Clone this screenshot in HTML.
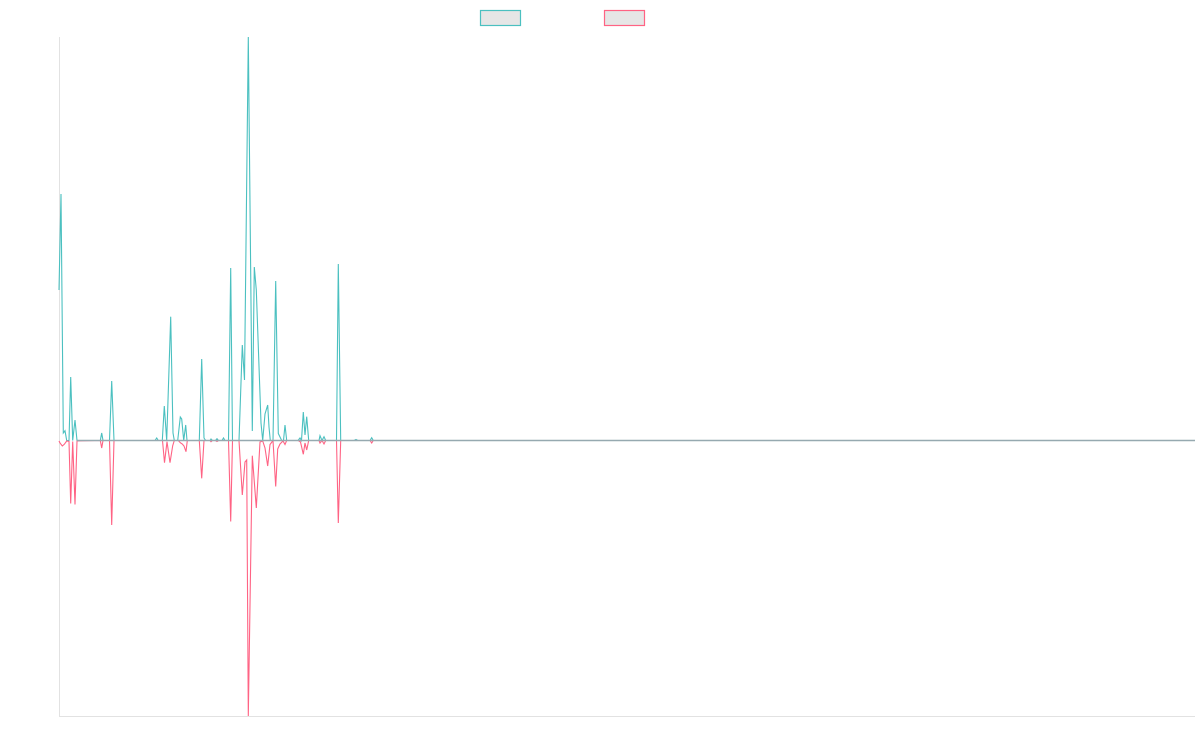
<!DOCTYPE html>
<html>
<head>
<meta charset="utf-8">
<style>
  html, body { margin: 0; padding: 0; background: #ffffff; }
  body { width: 1200px; height: 750px; overflow: hidden; font-family: "Liberation Sans", sans-serif; }
  svg { display: block; }
</style>
</head>
<body>
<svg width="1200" height="750" viewBox="0 0 1200 750" xmlns="http://www.w3.org/2000/svg">
  <rect x="0" y="0" width="1200" height="750" fill="#ffffff"/>

  <!-- legend -->
  <rect x="480.5" y="10.5" width="40" height="15" fill="#e6e6e6" stroke="rgb(75,192,192)" stroke-width="1.2"/>
  <rect x="604.5" y="10.5" width="40" height="15" fill="#e6e6e6" stroke="rgb(255,99,132)" stroke-width="1.2"/>

  <!-- axes -->
  <line x1="59.5" y1="37" x2="59.5" y2="716.5" stroke="#e2e2e2" stroke-width="1"/>
  <line x1="59" y1="716.5" x2="1195" y2="716.5" stroke="#e2e2e2" stroke-width="1"/>

  <!-- teal series -->
  <polyline fill="none" stroke="rgb(75,192,192)" stroke-width="1.1" stroke-linejoin="miter"
    points="59,290 61,194 63.3,433 65,430.7 66.7,440.5 69,440.5 70.7,377 72.7,440.5 75,420 77,440.5 100.3,440.5 101.7,433 103,440.5 109.5,440.5 111.7,381 114,440.5 155,440.5 156.7,438 158.3,440.5 162.3,440.5 164.3,406 166.7,440.5 170.7,316.7 173,433 174.3,440.5 177.7,440.5 180.3,417 181.7,419 183.7,440.5 185.7,425 187,440.5 199.3,440.5 201.7,359 204,438 205.7,440.5 210,440.5 211,439 212.5,440.5 215.5,440.5 217,438.7 218.5,440.5 222,440.5 223.5,438 225,440.5 228.5,440.5 230.7,268 232.5,440.5 239,440.5 242.3,345 244.5,380 248.3,37 252.3,431 254.3,267 256.3,290 261,423 262.7,440.5 265,414 267.7,405 269,427 270.3,440.5 273,440.5 275.7,281 278.3,433.5 281.7,440.5 283.5,440.5 285,425 286.7,440.5 298,440.5 300,438 301.5,440.5 303.3,412 305,435 306.7,416.7 308.7,440.5 319,440.5 320,435.7 322,440.5 324,436.7 325.7,440.5 336.5,440.5 338.3,264 340.7,440.5 354,440.5 356,439.5 358,440.5 370,440.5 371.7,437.7 373.3,440.5 1195,440.5"/>

  <!-- pink series -->
  <polyline fill="none" stroke="rgb(255,99,132)" stroke-width="1.1" stroke-linejoin="miter"
    points="59,441 60,443 62.3,446 64.3,444.3 66.7,441 69,441.5 70.7,503.5 72.7,441.5 75,504.5 77,441 100.3,440.5 101.7,448 103,440.5 109.5,440.5 111.7,525 114,440.5 162.5,440.5 164.5,462.7 167,441.7 170,462.7 172.7,445.7 174.3,440.5 178.3,440.5 180.3,442.7 182.3,444 184,446 186,451.7 187.3,440.5 199.3,440.5 201.7,478.3 204,440.5 210,440.5 211,441.7 212.5,440.5 215.5,440.5 217,441.5 218.5,440.5 228.5,440.5 230.7,521.5 232.5,440.5 239,440.5 242.3,495 245,462 246.7,460 248.3,716 252.3,455.7 256.3,508 260,442 262.7,441 265,448 267.7,466 270,444.5 273,440.5 275.7,486.5 277.7,449 280,444 283,441 285,444.5 286.7,440.5 298.3,440.5 300.5,442 303.3,454.3 305,443 306.7,450 308.7,440.5 319,440.5 320,443 322,440.5 324,444 325.7,440.5 336.5,440.5 338.3,523 340.7,440.5 370,440.5 371.7,443 373.3,440.5 1195,440.5"/>

  <!-- overlapping baseline (blended colour) -->
  <line x1="77" y1="440.5" x2="1195" y2="440.5" stroke="#96a9b0" stroke-width="1.4"/>
</svg>
</body>
</html>
